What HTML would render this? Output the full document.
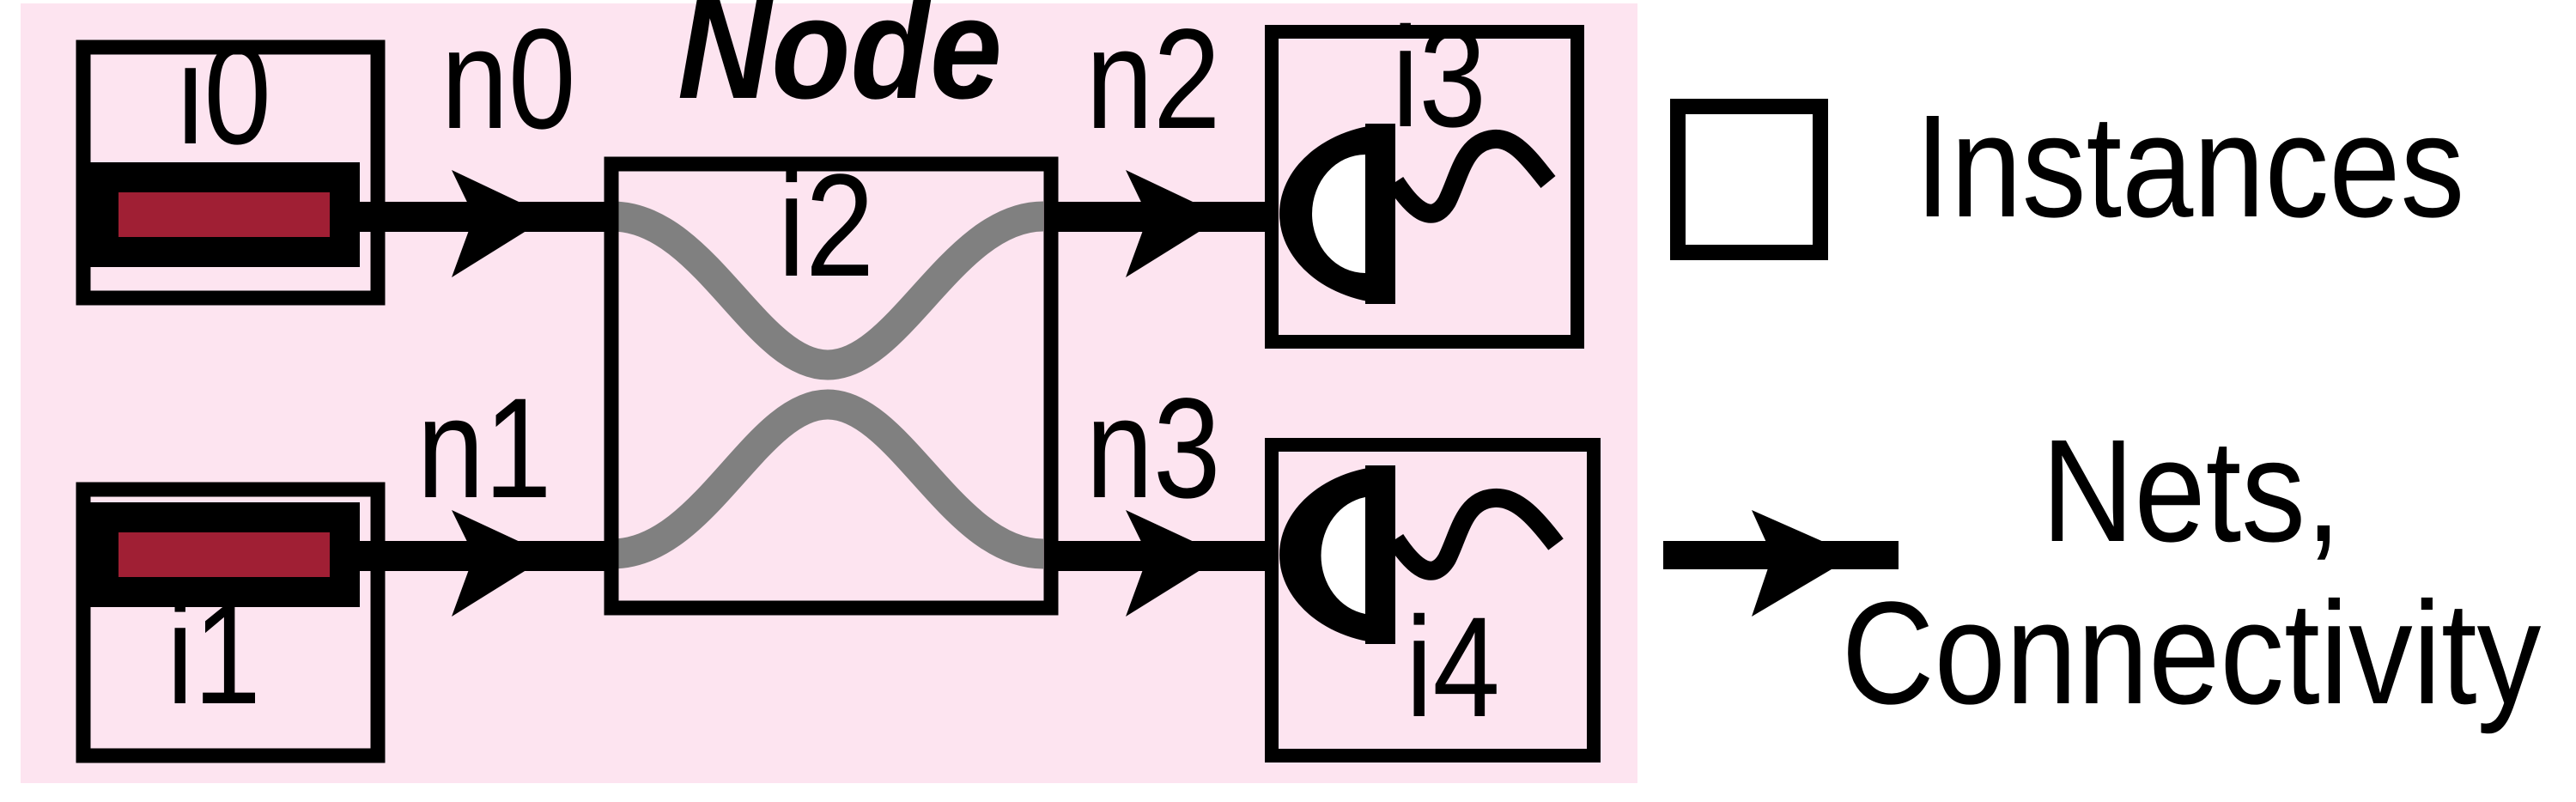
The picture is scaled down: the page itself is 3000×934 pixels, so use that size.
<!DOCTYPE html>
<html><head><meta charset="utf-8"><style>
html,body{margin:0;padding:0;background:#fff;}
svg{display:block;}
text{font-family:"Liberation Sans",sans-serif;fill:#000;}
</style></head><body>
<svg width="3000" height="934" viewBox="0 0 3000 934">
<rect x="24" y="4" width="1883" height="908" fill="#fde4f0"/>
<text transform="translate(978,114) scale(0.9,1)" font-size="168" font-weight="bold" font-style="italic" text-anchor="middle">Node</text>

<g>
<rect x="97" y="55" width="343" height="292" fill="none" stroke="#000" stroke-width="17"/>
<rect x="89" y="189" width="330" height="122" fill="#000"/>
<rect x="138" y="224" width="246" height="52" fill="#a01f34"/>
<text transform="translate(261,167) scale(0.85,1)" font-size="166" text-anchor="middle">i0</text>
</g>
<g>
<rect x="97" y="570" width="343" height="310" fill="none" stroke="#000" stroke-width="17"/>
<rect x="89" y="585" width="330" height="122" fill="#000"/>
<rect x="138" y="620" width="246" height="52" fill="#a01f34"/>
<text transform="translate(249,819) scale(0.85,1)" font-size="166" text-anchor="middle">i1</text>
</g>

<g>
<rect x="419" y="235" width="290" height="35" fill="#000"/>
<polygon points="526,198 640,252 526,323 552,252" fill="#000"/>
<text transform="translate(592,149) scale(0.85,1)" font-size="166" text-anchor="middle">n0</text>
</g>
<g>
<rect x="419" y="630" width="290" height="35" fill="#000"/>
<polygon points="526,594 640,647 526,718 552,647" fill="#000"/>
<text transform="translate(564,579) scale(0.85,1)" font-size="166" text-anchor="middle">n1</text>
</g>
<g>
<rect x="1228" y="235" width="250" height="35" fill="#000"/>
<polygon points="1311,198 1425,252 1311,323 1337,252" fill="#000"/>
<text transform="translate(1343,149) scale(0.85,1)" font-size="166" text-anchor="middle">n2</text>
</g>
<g>
<rect x="1228" y="630" width="250" height="35" fill="#000"/>
<polygon points="1311,594 1425,647 1311,718 1337,647" fill="#000"/>
<text transform="translate(1343,579) scale(0.85,1)" font-size="166" text-anchor="middle">n3</text>
</g>

<g>
<path d="M713,252 C820,252 880,425 964,425 C1048,425 1110,252 1215,252" fill="none" stroke="#808080" stroke-width="35"/>
<path d="M713,645 C820,645 880,471 964,471 C1048,471 1110,645 1215,645" fill="none" stroke="#808080" stroke-width="35"/>
<rect x="712" y="191" width="512" height="517" fill="none" stroke="#000" stroke-width="17"/>
<text transform="translate(962,321) scale(0.85,1)" font-size="170" text-anchor="middle">i2</text>
</g>

<g>
<rect x="1481" y="37" width="356" height="361" fill="none" stroke="#000" stroke-width="16"/>
<path d="M1625,144 A135,105 0 0 0 1625,354 Z" fill="#000"/>
<path d="M1590,180 A62,69 0 0 0 1590,318 Z" fill="#fff"/>
<rect x="1590" y="144" width="35" height="210" fill="#000"/>
<path d="M1625,212 C1650,250 1670,260 1685,235 C1700,205 1705,165 1740,162 C1765,160 1785,190 1803,212" fill="none" stroke="#000" stroke-width="22"/>
<text transform="translate(1676,147) scale(0.85,1)" font-size="166" text-anchor="middle">i3</text>
</g>
<g>
<rect x="1481" y="518" width="375" height="362" fill="none" stroke="#000" stroke-width="16"/>
<path d="M1625,542 A135,104 0 0 0 1625,750 Z" fill="#000"/>
<path d="M1590,579 A62,69 0 0 0 1590,715 Z" fill="#fff"/>
<rect x="1590" y="542" width="35" height="208" fill="#000"/>
<path d="M1625,628 C1650,666 1670,676 1685,651 C1700,621 1705,582 1740,580 C1767,578 1790,605 1812,634" fill="none" stroke="#000" stroke-width="22"/>
<text transform="translate(1692,834) scale(0.85,1)" font-size="166" text-anchor="middle">i4</text>
</g>

<g>
<rect x="1954" y="124" width="166" height="170" fill="none" stroke="#000" stroke-width="18"/>
<text transform="translate(2230,252) scale(0.88,1)" font-size="170">Instances</text>
</g>
<g>
<rect x="1937" y="630" width="274" height="33" fill="#000"/>
<polygon points="2040,594 2160,647 2040,718 2064,647" fill="#000"/>
<text transform="translate(2552,630) scale(0.88,1)" font-size="170" text-anchor="middle">Nets,</text>
<text transform="translate(2552,819) scale(0.88,1)" font-size="170" text-anchor="middle">Connectivity</text>
</g>
</svg>
</body></html>
